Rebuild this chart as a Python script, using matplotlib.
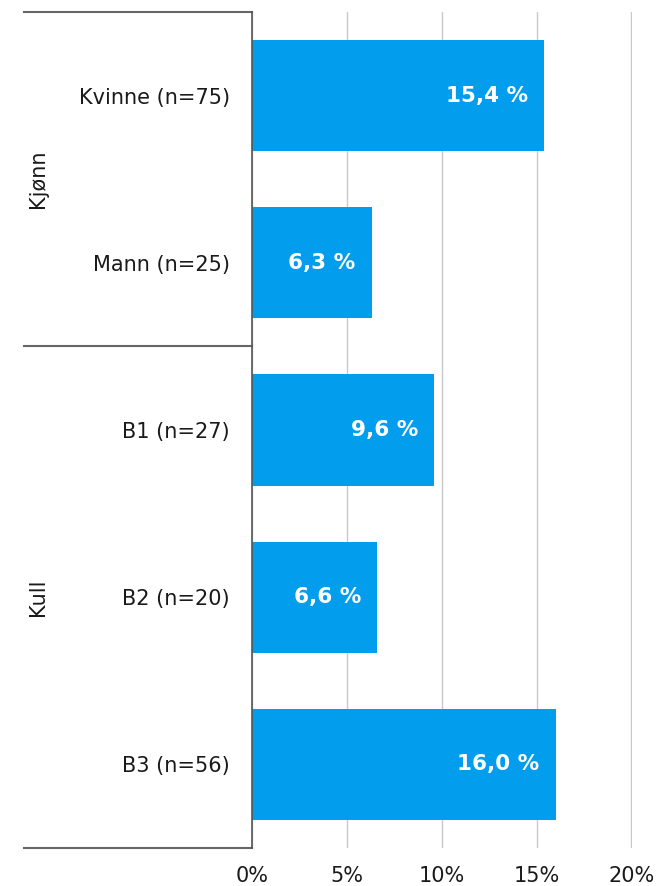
import matplotlib.pyplot as plt
import numpy as np

categories = ["Kvinne (n=75)", "Mann (n=25)", "B1 (n=27)", "B2 (n=20)", "B3 (n=56)"]
values = [15.4, 6.3, 9.6, 6.6, 16.0]
groups = ["Kjønn", "Kull"]
group_sizes = [2, 3]
xticks = [0, 5, 10, 15, 20]

plt.rcParams['font.family'] = ['DejaVu Sans']
fs = 15

fig = plt.figure(figsize=(6.6, 8.86), dpi=100)
ax = fig.add_axes([252/660, 1-848/886, 380/660, 836/886])

y = np.arange(len(categories))
ax.barh(y, values, height=0.665, color='#039DEE', zorder=3)
ax.set_ylim(len(categories)-0.5, -0.5)
ax.set_xlim(0, 20.03)

for yi, v in zip(y, values):
    ax.text(v - 0.85, yi, f"{v:.1f} %".replace('.', ','), ha='right', va='center',
            color='white', fontweight='bold', fontsize=15.5, zorder=4)

ax.set_yticks(y)
ax.set_yticklabels(categories, fontsize=fs, color='#1a1a1a')
ax.tick_params(axis='y', length=0, pad=16)
ax.set_xticks(xticks)
ax.set_xticklabels([f"{t}%" for t in xticks], fontsize=fs, color='#1a1a1a')
ax.tick_params(axis='x', length=0, pad=13)
ax.grid(axis='x', color='#c8c8c8', linewidth=1, zorder=0)

for s in ['top', 'right', 'bottom']:
    ax.spines[s].set_visible(False)
ax.spines['left'].set_color('#555555')
ax.spines['left'].set_linewidth(1.2)
ax.spines['left'].set_zorder(5)

# group separators and labels
trans = ax.get_yaxis_transform()
x0 = (24 - 252) / 380
start = -0.5
ax.plot([x0, 0], [start, start], transform=trans, color='#666666', lw=1.5, clip_on=False)
for g, n in zip(groups, group_sizes):
    end = start + n
    ax.plot([x0, 0], [end, end], transform=trans, color='#666666', lw=1.5, clip_on=False)
    ax.text((38 - 252) / 380, (start + end) / 2, g, transform=trans, rotation=90,
            ha='center', va='center', fontsize=fs, color='#1a1a1a')
    start = end

fig.savefig('out.png', dpi=100)
